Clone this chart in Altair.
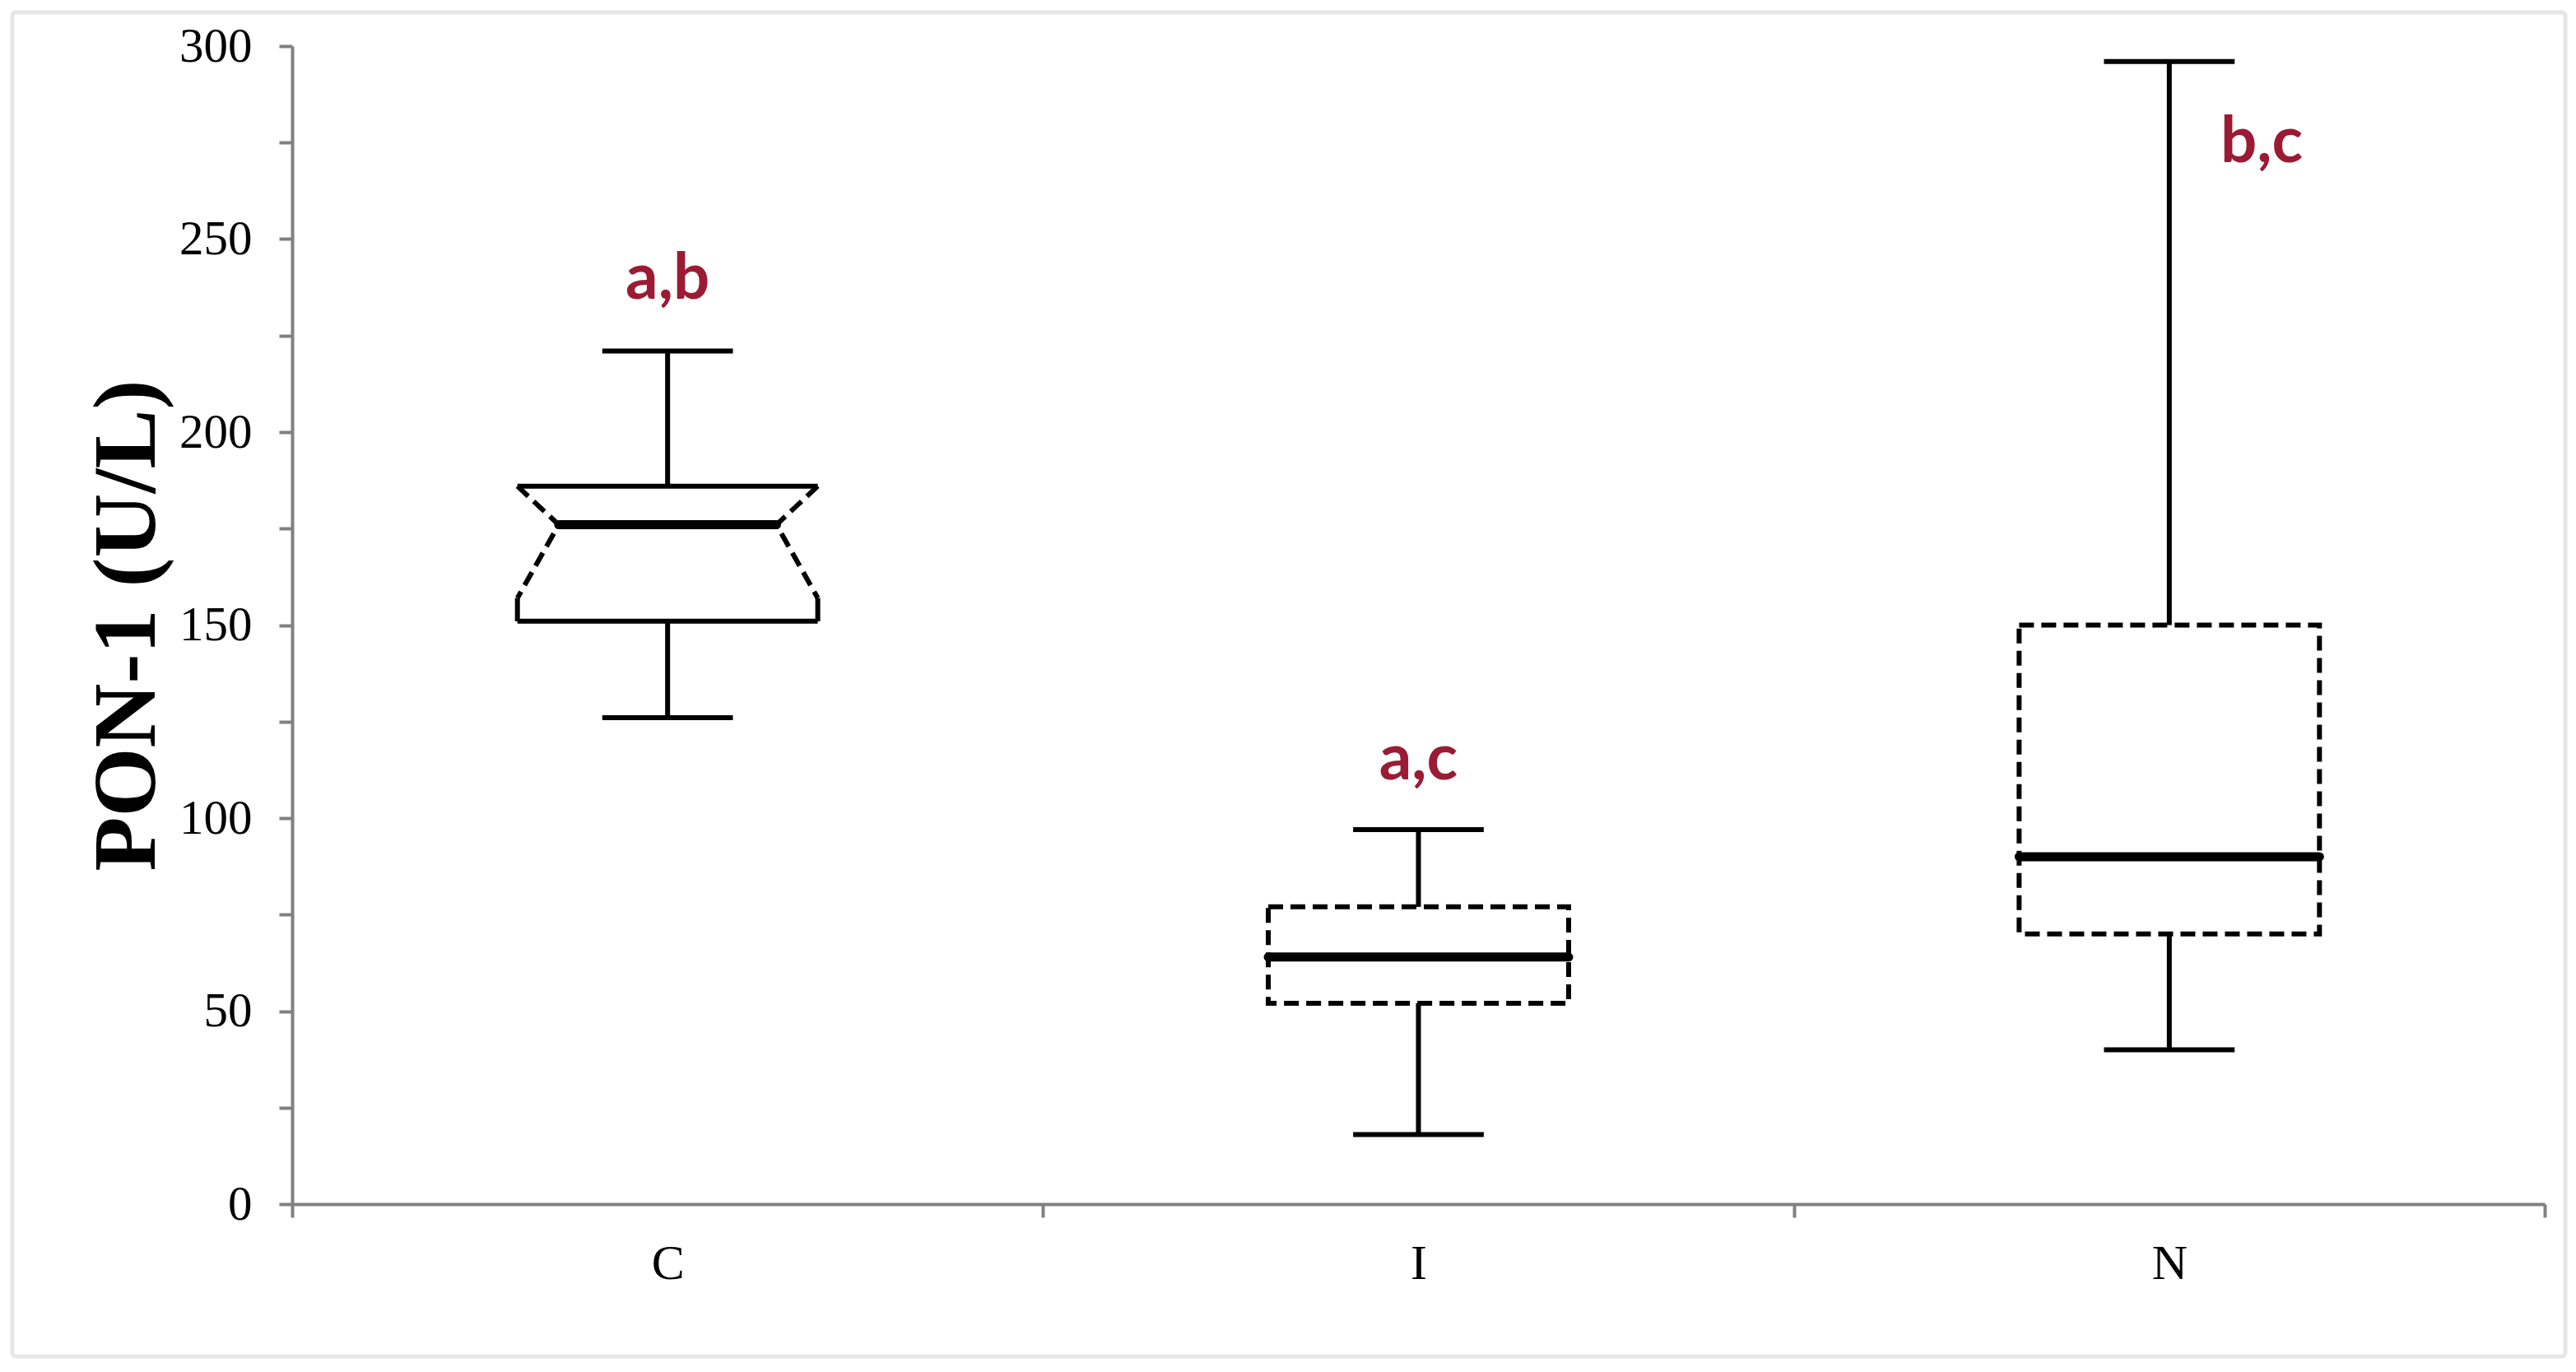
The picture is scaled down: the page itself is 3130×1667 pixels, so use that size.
import json

import altair as alt
import pandas as pd

# --- data -------------------------------------------------------------
groups = ["C", "I", "N"]
whisker_low = [126, 18, 40]
q1 = [151, 52, 70]
median = [176, 64, 90]
q3 = [186, 77, 150]
whisker_high = [221, 97, 296]
# lower end of the notch on the notched box (only C is drawn notched)
notch_low = [157, None, None]

# significance letters above each group
letters = ["a,b", "a,c", "b,c"]
letter_y = [234.5, 110, 270]
letter_shift = [0, 0, 0.123]

y_ticks = list(range(0, 301, 25))

# --- geometry (in category-band units) and styling ---------------------
BOX_HALF = 0.2
CAP_HALF = 0.087
NOTCH_INSET = 0.055
DASH = [18, 9]
LINE_W = 6
MEDIAN_W = 11
AXIS_GREY = "#808080"
LETTER_RED = "#9B1B34"

W, H = 2737, 1407
PAD = {"left": 355, "top": 56, "right": 38, "bottom": 204}

box_df = pd.DataFrame({
    "group": groups,
    "lo": whisker_low,
    "q1": q1,
    "med": median,
    "q3": q3,
    "hi": whisker_high,
    "notch": notch_low,
    "letter": letters,
    "ly": letter_y,
    "lshift": letter_shift,
})

notch_rows = []
for g, top, mid, bot in zip(groups, q3, median, notch_low):
    if bot is None:
        continue
    for side in (-1, 1):
        for k, yv in enumerate((top, mid, bot)):
            notch_rows.append({"group": g, "side": side, "k": k, "y": yv})
notch_df = pd.DataFrame(notch_rows)

POS = f"indexof({json.dumps(groups)}, datum.group) + 0.5"

# --- scales and axes ----------------------------------------------------
x_scale = alt.Scale(domain=[0, len(groups)], nice=False, zero=False)
y_scale = alt.Scale(domain=[0, 300], nice=False)

x_axis = alt.Axis(
    values=[i / 2 for i in range(2 * len(groups) + 1)],
    labelExpr=f"datum.value % 1 === 0.5 ? {json.dumps(groups)}[floor(datum.value)] : ''",
    tickOpacity={"condition": {"test": "datum.value % 1 === 0", "value": 1}, "value": 0},
    tickSize=16, tickWidth=4, tickColor=AXIS_GREY,
    domainColor=AXIS_GREY, domainWidth=4,
    labelFont="Liberation Serif", labelFontSize=60, labelColor="black",
    labelPadding=27, labelFlush=False, labelOverlap=False, grid=False,
)
y_axis = alt.Axis(
    values=y_ticks,
    labelExpr="datum.value % 50 === 0 ? datum.label : ''",
    tickSize=16, tickWidth=4, tickColor=AXIS_GREY,
    domainColor=AXIS_GREY, domainWidth=4,
    labelFont="Liberation Serif", labelFontSize=59, labelColor="black",
    labelPadding=33, labelFlush=False, labelOverlap=False, grid=False,
    titleFont="Liberation Serif", titleFontSize=108, titleFontWeight="bold",
    titleColor="black", titleAngle=270, titleX=-200, titleY=H / 2,
    titleAlign="center", titleBaseline="middle",
)


def X(field):
    return alt.X(f"{field}:Q", scale=x_scale, axis=x_axis, title=None)


def Y(field):
    return alt.Y(f"{field}:Q", scale=y_scale, axis=y_axis, title="PON-1 (U/L)")


base = alt.Chart(box_df).transform_calculate(
    pos=POS,
    xl=f"{POS} - {BOX_HALF}",
    xr=f"{POS} + {BOX_HALF}",
    cl=f"{POS} - {CAP_HALF}",
    cr=f"{POS} + {CAP_HALF}",
    ml=f"{POS} - {BOX_HALF} + (isValid(datum.notch) ? {NOTCH_INSET} : 0)",
    mr=f"{POS} + {BOX_HALF} - (isValid(datum.notch) ? {NOTCH_INSET} : 0)",
    lx=f"{POS} + datum.lshift",
)
plain = base.transform_filter("!isValid(datum.notch)")
notched = base.transform_filter("isValid(datum.notch)")

rule = dict(color="black", strokeWidth=LINE_W)

# outer light frame around the figure
frame = alt.Chart(alt.Data(values=[{}])).mark_rect(
    fillOpacity=0, stroke="#E6E6E6", strokeWidth=5, cornerRadius=4
).encode(
    x=alt.value(15 - PAD["left"]), x2=alt.value(3117 - PAD["left"]),
    y=alt.value(15 - PAD["top"]), y2=alt.value(1648 - PAD["top"]),
)

whisker_up = base.mark_rule(**rule).encode(x=X("pos"), y=Y("q3"), y2="hi:Q")
whisker_dn = base.mark_rule(**rule).encode(x=X("pos"), y=Y("lo"), y2="q1:Q")
cap_hi = base.mark_rule(**rule).encode(x=X("cl"), x2="cr:Q", y=Y("hi"))
cap_lo = base.mark_rule(**rule).encode(x=X("cl"), x2="cr:Q", y=Y("lo"))

# dashed interquartile boxes
boxes = plain.mark_rect(
    fillOpacity=0, stroke="black", strokeWidth=LINE_W, strokeDash=DASH
).encode(x=X("xl"), x2="xr:Q", y=Y("q1"), y2="q3:Q")

# notched box: solid top/bottom, short solid sides, dashed notch
n_top = notched.mark_rule(**rule).encode(x=X("xl"), x2="xr:Q", y=Y("q3"))
n_bot = notched.mark_rule(**rule).encode(x=X("xl"), x2="xr:Q", y=Y("q1"))
n_left = notched.mark_rule(**rule).encode(x=X("xl"), y=Y("q1"), y2="notch:Q")
n_right = notched.mark_rule(**rule).encode(x=X("xr"), y=Y("q1"), y2="notch:Q")
n_dash = alt.Chart(notch_df).transform_calculate(
    x=f"{POS} + datum.side * ({BOX_HALF} - (datum.k === 1 ? {NOTCH_INSET} : 0))"
).mark_line(color="black", strokeWidth=LINE_W, strokeDash=DASH).encode(
    x=X("x"), y=Y("y"), detail="side:N", order="k:Q"
)

medians = base.mark_rule(color="black", strokeWidth=MEDIAN_W, strokeCap="round").encode(
    x=X("ml"), x2="mr:Q", y=Y("med")
)

labels = base.mark_text(
    font="Lato", fontWeight="bold", fontSize=78, color=LETTER_RED,
    align="center", baseline="alphabetic",
).encode(x=X("lx"), y=Y("ly"), text="letter:N")

chart = alt.layer(
    frame, boxes, whisker_up, whisker_dn, cap_hi, cap_lo,
    n_top, n_bot, n_left, n_right, n_dash, medians, labels,
).properties(
    width=W, height=H,
    autosize=alt.AutoSizeParams(type="none"),
    padding=PAD,
    background="white",
).configure_view(strokeWidth=0)

chart.save("out.html", embed_options={"renderer": "svg", "actions": False})
